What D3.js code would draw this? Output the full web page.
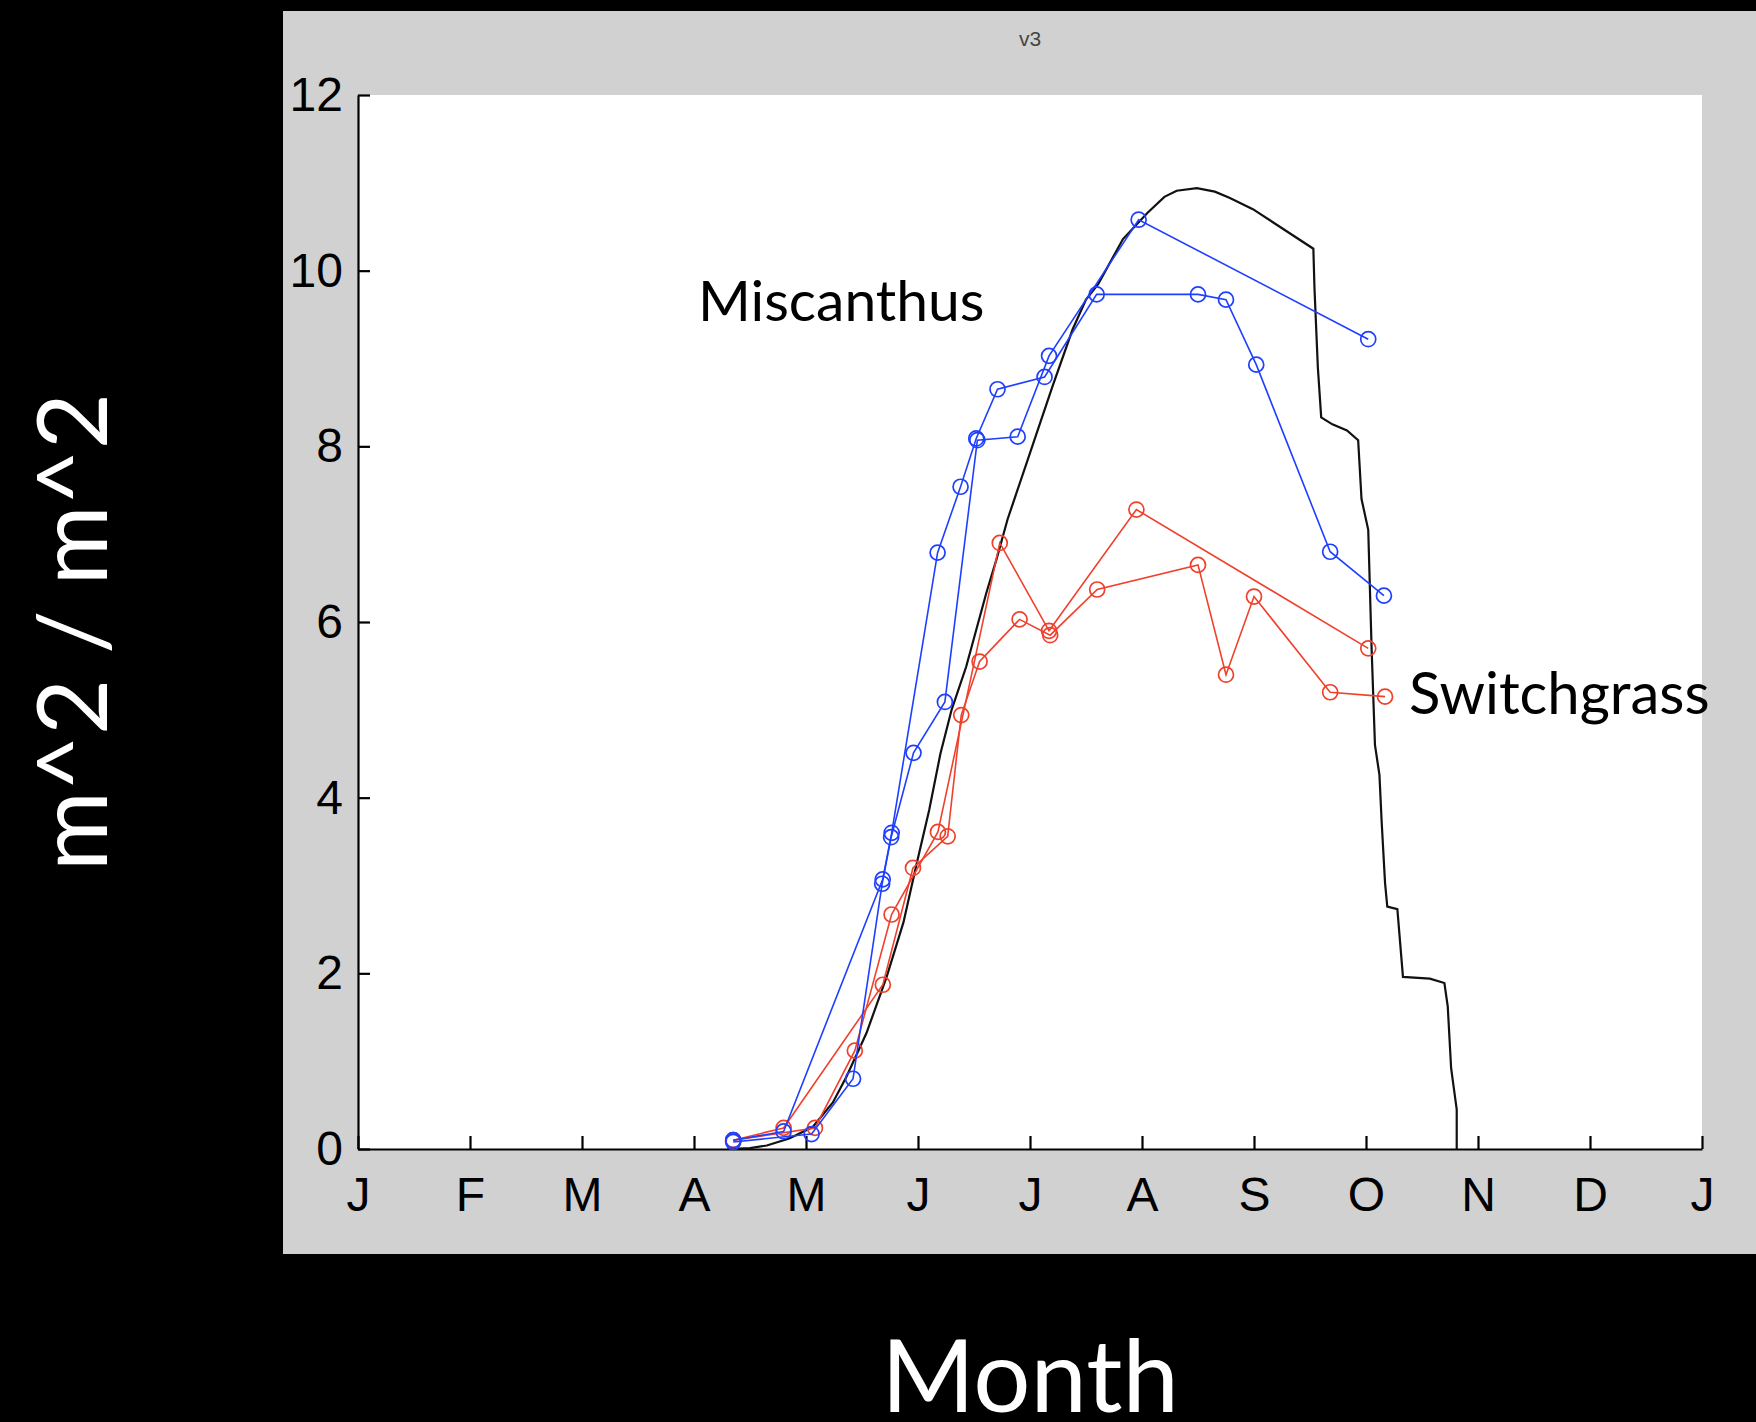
<!DOCTYPE html>
<html>
<head>
<meta charset="utf-8">
<script src="https://cdn.jsdelivr.net/npm/d3@7"></script>
<style>
  html, body { margin: 0; padding: 0; background: #000; }
  svg { display: block; }
</style>
</head>
<body>
<div id="chart"></div>
<script>
// Month tick labels (Jan .. Jan of next year) and leaf-area ticks
const monthLabels = ["J","F","M","A","M","J","J","A","S","O","N","D","J"];
const yTickValues = [0, 2, 4, 6, 8, 10, 12];

// Modelled leaf area index (black line): time in months since 1 Jan, value in m^2/m^2
const modelMonths = [3.30,3.50,3.65,3.85,4.06,4.24,4.36,4.54,4.72,4.87,4.99,5.10,5.20,5.30,5.43,5.61,5.70,5.80,6.02,6.20,6.38,6.50,6.61,6.83,7.05,7.20,7.31,7.49,7.65,7.78,7.99,8.23,8.53,8.54,8.57,8.60,8.70,8.83,8.93,8.96,9.02,9.05,9.08,9.12,9.14,9.17,9.19,9.28,9.33,9.57,9.70,9.73,9.76,9.81,9.81];
const modelLAI    = [0.00,0.01,0.04,0.12,0.25,0.53,0.82,1.32,1.96,2.58,3.26,3.86,4.50,5.00,5.49,6.33,6.71,7.17,8.00,8.68,9.33,9.67,9.85,10.36,10.66,10.84,10.91,10.94,10.90,10.83,10.70,10.50,10.25,9.80,8.90,8.33,8.25,8.18,8.07,7.40,7.05,5.70,4.60,4.26,3.72,3.03,2.76,2.73,1.96,1.94,1.89,1.62,0.92,0.45,0.00];

// Miscanthus observations (blue), two plots
const miscAMonths = [3.35,3.80,4.685,4.765,5.175,5.38,5.52,5.71,6.13,6.595,7.50,7.75,8.02,8.68,9.16];
const miscALAI    = [0.10,0.20,3.07,3.60,6.79,7.54,8.09,8.65,8.79,9.73,9.73,9.67,8.93,6.80,6.30];
const miscBMonths = [3.35,4.05,4.42,4.68,4.76,4.96,5.24,5.53,5.89,6.17,6.97,9.02];
const miscBLAI    = [0.08,0.17,0.80,3.02,3.55,4.51,5.09,8.07,8.11,9.03,10.58,9.22];

// Switchgrass observations (red), two plots
const switchAMonths = [3.35,4.08,4.436,4.764,5.178,5.73,6.17,6.95,9.02];
const switchALAI    = [0.10,0.24,1.12,2.67,3.61,6.90,5.90,7.28,5.70];
const switchBMonths = [3.35,3.80,4.686,4.955,5.265,5.386,5.55,5.907,6.18,6.60,7.50,7.75,8.00,8.68,9.17];
const switchBLAI    = [0.10,0.24,1.87,3.20,3.56,4.94,5.55,6.03,5.85,6.37,6.65,5.40,6.29,5.20,5.15];

const W = 1756, H = 1422;
const plot = { left: 358, right: 1702, top: 95, bottom: 1149 };
const BLUE = "#1f3fff", RED = "#f0402c";

const svg = d3.select("#chart").append("svg")
  .attr("width", W).attr("height", H)
  .attr("viewBox", `0 0 ${W} ${H}`);

svg.append("rect").attr("x", 0).attr("y", 0).attr("width", W).attr("height", H).attr("fill", "#000");

// figure panel
svg.append("rect").attr("x", 283).attr("y", 11).attr("width", W - 283).attr("height", 1243).attr("fill", "#d1d1d1");
// axes background
svg.append("rect")
  .attr("x", plot.left).attr("y", plot.top)
  .attr("width", plot.right - plot.left).attr("height", plot.bottom - plot.top)
  .attr("fill", "#fff");

svg.append("text")
  .attr("x", (plot.left + plot.right) / 2).attr("y", 46)
  .attr("text-anchor", "middle")
  .attr("font-family", "Liberation Sans, Arial, sans-serif")
  .attr("font-size", 21).attr("fill", "#444")
  .text("v3");

const x = d3.scaleLinear().domain([0, 12]).range([plot.left, plot.right]);
const y = d3.scaleLinear().domain([0, 12]).range([plot.bottom, plot.top]);

// x axis: ticks at each month start, pointing inward
const xAxis = d3.axisBottom(x)
  .tickValues(d3.range(0, 13))
  .tickFormat(i => monthLabels[i])
  .tickSizeInner(-13).tickSizeOuter(0).tickPadding(28);
const gx = svg.append("g").attr("transform", `translate(0,${plot.bottom})`).call(xAxis);
gx.select(".domain").attr("stroke", "#000").attr("stroke-width", 2.2);
gx.selectAll(".tick line").attr("stroke", "#000").attr("stroke-width", 2.2);
gx.selectAll(".tick text")
  .attr("font-family", "Liberation Sans, Arial, sans-serif")
  .attr("font-size", 48).attr("fill", "#000")
  .attr("dy", "0.71em");

// y axis
const yAxis = d3.axisLeft(y)
  .tickValues(yTickValues)
  .tickFormat(d3.format("d"))
  .tickSizeInner(-12).tickSizeOuter(0).tickPadding(15);
const gy = svg.append("g").attr("transform", `translate(${plot.left},0)`).call(yAxis);
gy.select(".domain").attr("stroke", "#000").attr("stroke-width", 2.2);
gy.selectAll(".tick line").attr("stroke", "#000").attr("stroke-width", 2.2);
gy.selectAll(".tick text")
  .attr("font-family", "Liberation Sans, Arial, sans-serif")
  .attr("font-size", 48).attr("fill", "#000");

const line = d3.line().x(d => x(d[0])).y(d => y(d[1]));
const zipSeries = (ms, vs) => ms.map((m, i) => [m, vs[i]]);

// model curve
svg.append("path")
  .datum(zipSeries(modelMonths, modelLAI))
  .attr("d", line)
  .attr("fill", "none").attr("stroke", "#111").attr("stroke-width", 2.2)
  .attr("stroke-linejoin", "miter");

const observed = [
  { months: switchBMonths, lai: switchBLAI, color: RED },
  { months: switchAMonths, lai: switchALAI, color: RED },
  { months: miscBMonths, lai: miscBLAI, color: BLUE },
  { months: miscAMonths, lai: miscALAI, color: BLUE }
];

observed.forEach(s => {
  const pts = zipSeries(s.months, s.lai);
  const g = svg.append("g");
  g.append("path").datum(pts).attr("d", line)
    .attr("fill", "none").attr("stroke", s.color).attr("stroke-width", 1.6);
  g.selectAll("circle").data(pts).join("circle")
    .attr("cx", d => x(d[0])).attr("cy", d => y(d[1]))
    .attr("r", 7.5)
    .attr("fill", "none").attr("stroke", s.color).attr("stroke-width", 1.7);
});

// crop labels
svg.append("text")
  .attr("x", 698).attr("y", 321)
  .attr("font-family", "Lato, 'Open Sans', sans-serif")
  .attr("font-size", 57).attr("fill", "#000")
  .text("Miscanthus");
svg.append("text")
  .attr("x", 1409).attr("y", 714)
  .attr("font-family", "Lato, 'Open Sans', sans-serif")
  .attr("font-size", 58).attr("fill", "#000")
  .text("Switchgrass");

// axis titles
svg.append("text")
  .attr("transform", "translate(107,632) rotate(-90)")
  .attr("text-anchor", "middle")
  .attr("font-family", "Lato, 'Open Sans', sans-serif")
  .attr("font-size", 97).attr("fill", "#fff")
  .text("m^2 / m^2");
svg.append("text")
  .attr("x", (plot.left + plot.right) / 2).attr("y", 1412)
  .attr("text-anchor", "middle")
  .attr("font-family", "Lato, 'Open Sans', sans-serif")
  .attr("font-size", 101).attr("fill", "#fff")
  .text("Month");
</script>
</body>
</html>
